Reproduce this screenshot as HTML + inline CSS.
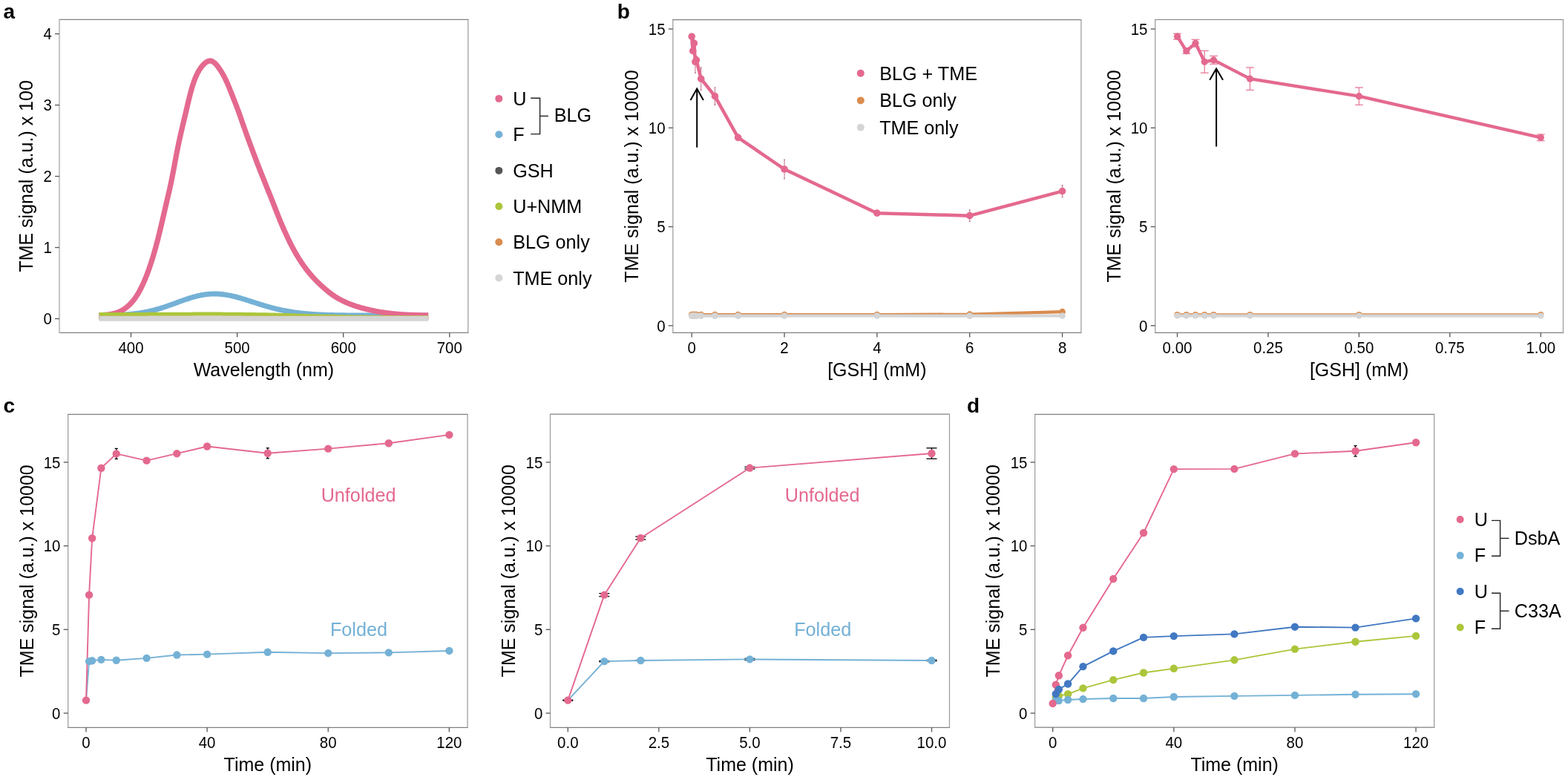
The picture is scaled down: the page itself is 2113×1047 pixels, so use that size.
<!DOCTYPE html>
<html><head><meta charset="utf-8"><title>Figure</title>
<style>html,body{margin:0;padding:0;background:#fff;}svg{display:block;}</style>
</head><body>
<svg width="2113" height="1047" viewBox="0 0 2113 1047" font-family="'Liberation Sans', Arial, Helvetica, sans-serif">
<rect width="100%" height="100%" fill="#fff"/>
<text x="4.6" y="25" font-size="28" text-anchor="start" fill="#000" font-weight="bold">a</text>
<text x="831.8" y="24.6" font-size="28" text-anchor="start" fill="#000" font-weight="bold">b</text>
<text x="4.6" y="555.6" font-size="28" text-anchor="start" fill="#000" font-weight="bold">c</text>
<text x="1302.9" y="556" font-size="28" text-anchor="start" fill="#000" font-weight="bold">d</text>
<line x1="79.4" y1="26.4" x2="631.4" y2="26.4" stroke="#808080" stroke-width="1.2"/>
<line x1="79.4" y1="448.4" x2="631.4" y2="448.4" stroke="#808080" stroke-width="1.2"/>
<line x1="80" y1="26.4" x2="80" y2="448.4" stroke="#c8c8c8" stroke-width="2.2"/>
<line x1="630.8" y1="26.4" x2="630.8" y2="448.4" stroke="#a0a0a0" stroke-width="1.3"/>
<line x1="176.5" y1="448.4" x2="176.5" y2="454.4" stroke="#555555" stroke-width="1.3"/>
<text transform="translate(176.5 475.8) scale(0.965 1.075)" font-size="21.2" text-anchor="middle" fill="#000">400</text>
<line x1="319.6" y1="448.4" x2="319.6" y2="454.4" stroke="#555555" stroke-width="1.3"/>
<text transform="translate(319.6 475.8) scale(0.965 1.075)" font-size="21.2" text-anchor="middle" fill="#000">500</text>
<line x1="462.7" y1="448.4" x2="462.7" y2="454.4" stroke="#555555" stroke-width="1.3"/>
<text transform="translate(462.7 475.8) scale(0.965 1.075)" font-size="21.2" text-anchor="middle" fill="#000">600</text>
<line x1="605.8" y1="448.4" x2="605.8" y2="454.4" stroke="#555555" stroke-width="1.3"/>
<text transform="translate(605.8 475.8) scale(0.965 1.075)" font-size="21.2" text-anchor="middle" fill="#000">700</text>
<line x1="74" y1="429.5" x2="80" y2="429.5" stroke="#555555" stroke-width="1.3"/>
<text transform="translate(69.8 437.2) scale(0.965 1.075)" font-size="21.2" text-anchor="end" fill="#000">0</text>
<line x1="74" y1="333.53" x2="80" y2="333.53" stroke="#555555" stroke-width="1.3"/>
<text transform="translate(69.8 341.23) scale(0.965 1.075)" font-size="21.2" text-anchor="end" fill="#000">1</text>
<line x1="74" y1="237.56" x2="80" y2="237.56" stroke="#555555" stroke-width="1.3"/>
<text transform="translate(69.8 245.26) scale(0.965 1.075)" font-size="21.2" text-anchor="end" fill="#000">2</text>
<line x1="74" y1="141.59" x2="80" y2="141.59" stroke="#555555" stroke-width="1.3"/>
<text transform="translate(69.8 149.29) scale(0.965 1.075)" font-size="21.2" text-anchor="end" fill="#000">3</text>
<line x1="74" y1="45.62" x2="80" y2="45.62" stroke="#555555" stroke-width="1.3"/>
<text transform="translate(69.8 53.32) scale(0.965 1.075)" font-size="21.2" text-anchor="end" fill="#000">4</text>
<text x="355.4" y="506.7" font-size="25" text-anchor="middle" fill="#000">Wavelength (nm)</text>
<text x="44.5" y="237.4" font-size="25" text-anchor="middle" transform="rotate(-90 44.5 237.4)">TME signal (a.u.) x 100</text>
<polyline points="133.57,425.01 135,425 136.43,424.98 137.86,424.97 139.29,424.95 140.73,424.93 142.16,424.91 143.59,424.89 145.02,424.86 146.45,424.83 147.88,424.8 149.31,424.77 150.74,424.73 152.17,424.69 153.6,424.65 155.04,424.61 156.47,424.56 157.9,424.5 159.33,424.44 160.76,424.38 162.19,424.31 163.62,424.24 165.05,424.16 166.48,424.07 167.91,423.98 169.35,423.89 170.78,423.78 172.21,423.67 173.64,423.55 175.07,423.43 176.5,423.29 177.93,423.15 179.36,423 180.79,422.84 182.22,422.67 183.66,422.49 185.09,422.3 186.52,422.1 187.95,421.89 189.38,421.67 190.81,421.44 192.24,421.2 193.67,420.95 195.1,420.68 196.53,420.41 197.97,420.12 199.4,419.82 200.83,419.51 202.26,419.19 203.69,418.85 205.12,418.51 206.55,418.15 207.98,417.78 209.41,417.39 210.84,417 212.28,416.6 213.71,416.18 215.14,415.76 216.57,415.32 218,414.87 219.43,414.42 220.86,413.95 222.29,413.48 223.72,413 225.15,412.51 226.59,412.01 228.02,411.51 229.45,411 230.88,410.49 232.31,409.98 233.74,409.46 235.17,408.94 236.6,408.41 238.03,407.89 239.46,407.37 240.9,406.84 242.33,406.32 243.76,405.81 245.19,405.29 246.62,404.78 248.05,404.28 249.48,403.78 250.91,403.3 252.34,402.82 253.77,402.35 255.21,401.89 256.64,401.44 258.07,401 259.5,400.58 260.93,400.17 262.36,399.78 263.79,399.4 265.22,399.04 266.65,398.7 268.08,398.37 269.52,398.07 270.95,397.78 272.38,397.51 273.81,397.26 275.24,397.04 276.67,396.83 278.1,396.65 279.53,396.49 280.96,396.35 282.39,396.23 283.83,396.13 285.26,396.06 286.69,396.01 288.12,395.98 289.55,395.98 290.98,396 292.41,396.04 293.84,396.1 295.27,396.18 296.7,396.29 298.13,396.42 299.57,396.56 301,396.73 302.43,396.92 303.86,397.13 305.29,397.36 306.72,397.6 308.15,397.86 309.58,398.14 311.01,398.44 312.45,398.75 313.88,399.08 315.31,399.42 316.74,399.77 318.17,400.14 319.6,400.51 321.03,400.9 322.46,401.3 323.89,401.71 325.32,402.13 326.75,402.56 328.19,402.99 329.62,403.43 331.05,403.87 332.48,404.32 333.91,404.77 335.34,405.23 336.77,405.69 338.2,406.15 339.63,406.61 341.07,407.07 342.5,407.54 343.93,408 345.36,408.46 346.79,408.91 348.22,409.37 349.65,409.82 351.08,410.27 352.51,410.71 353.94,411.15 355.38,411.59 356.81,412.01 358.24,412.44 359.67,412.85 361.1,413.26 362.53,413.67 363.96,414.06 365.39,414.45 366.82,414.83 368.25,415.21 369.69,415.57 371.12,415.93 372.55,416.28 373.98,416.62 375.41,416.95 376.84,417.27 378.27,417.59 379.7,417.89 381.13,418.19 382.56,418.48 384,418.76 385.43,419.03 386.86,419.3 388.29,419.55 389.72,419.8 391.15,420.04 392.58,420.27 394.01,420.49 395.44,420.71 396.87,420.92 398.31,421.11 399.74,421.31 401.17,421.49 402.6,421.67 404.03,421.84 405.46,422 406.89,422.16 408.32,422.31 409.75,422.46 411.18,422.59 412.62,422.73 414.05,422.85 415.48,422.97 416.91,423.09 418.34,423.2 419.77,423.3 421.2,423.4 422.63,423.5 424.06,423.59 425.49,423.68 426.93,423.76 428.36,423.84 429.79,423.91 431.22,423.98 432.65,424.05 434.08,424.11 435.51,424.17 436.94,424.23 438.37,424.28 439.8,424.33 441.24,424.38 442.67,424.43 444.1,424.47 445.53,424.51 446.96,424.55 448.39,424.58 449.82,424.62 451.25,424.65 452.68,424.68 454.11,424.71 455.55,424.73 456.98,424.76 458.41,424.78 459.84,424.81 461.27,424.83 462.7,424.85 464.13,424.86 465.56,424.88 466.99,424.9 468.42,424.91 469.86,424.93 471.29,424.94 472.72,424.95 474.15,424.96 475.58,424.97 477.01,424.98 478.44,424.99 479.87,425 481.3,425.01 482.73,425.02 484.17,425.02 485.6,425.03 487.03,425.04 488.46,425.04 489.89,425.05 491.32,425.05 492.75,425.06 494.18,425.06 495.61,425.07 497.04,425.07 498.48,425.07 499.91,425.08 501.34,425.08 502.77,425.08 504.2,425.08 505.63,425.09 507.06,425.09 508.49,425.09 509.92,425.09 511.35,425.09 512.79,425.1 514.22,425.1 515.65,425.1 517.08,425.1 518.51,425.1 519.94,425.1 521.37,425.1 522.8,425.1 524.23,425.11 525.66,425.11 527.1,425.11 528.53,425.11 529.96,425.11 531.39,425.11 532.82,425.11 534.25,425.11 535.68,425.11 537.11,425.11 538.54,425.11 539.97,425.11 541.41,425.11 542.84,425.11 544.27,425.11 545.7,425.11 547.13,425.11 548.56,425.11 549.99,425.11 551.42,425.11 552.85,425.11 554.28,425.11 555.72,425.11 557.15,425.11 558.58,425.11 560.01,425.11 561.44,425.11 562.87,425.11 564.3,425.11 565.73,425.11 567.16,425.11 568.59,425.11 570.03,425.11 571.46,425.11 572.89,425.11 574.32,425.11 575.75,425.11 577.18,425.11" fill="none" stroke="#74b1d6" stroke-width="7" stroke-linejoin="round" stroke-linecap="butt"/>
<polyline points="133.57,424.67 135,424.64 136.43,424.6 137.86,424.55 139.29,424.48 140.73,424.4 142.16,424.3 143.59,424.18 145.02,424.04 146.45,423.86 147.88,423.66 149.31,423.42 150.74,423.14 152.17,422.82 153.6,422.46 155.04,422.07 156.47,421.63 157.9,421.15 159.33,420.63 160.76,420.04 162.19,419.38 163.62,418.64 165.05,417.83 166.48,416.95 167.91,415.99 169.35,414.96 170.78,413.86 172.21,412.68 173.64,411.41 175.07,410.04 176.5,408.57 177.93,406.99 179.36,405.29 180.79,403.47 182.22,401.51 183.66,399.42 185.09,397.18 186.52,394.79 187.95,392.24 189.38,389.55 190.81,386.7 192.24,383.7 193.67,380.55 195.1,377.23 196.53,373.74 197.97,370.09 199.4,366.29 200.83,362.32 202.26,358.19 203.69,353.88 205.12,349.38 206.55,344.68 207.98,339.77 209.41,334.68 210.84,329.41 212.28,323.97 213.71,318.37 215.14,312.61 216.57,306.69 218,300.61 219.43,294.43 220.86,288.2 222.29,281.98 223.72,275.82 225.15,269.7 226.59,263.58 228.02,257.39 229.45,251 230.88,244.3 232.31,237.24 233.74,229.83 235.17,222.18 236.6,214.46 238.03,206.88 239.46,199.57 240.9,192.6 242.33,185.96 243.76,179.6 245.19,173.44 246.62,167.4 248.05,161.41 249.48,155.39 250.91,149.31 252.34,143.18 253.77,137.09 255.21,131.17 256.64,125.54 258.07,120.31 259.5,115.5 260.93,111.14 262.36,107.2 263.79,103.67 265.22,100.5 266.65,97.66 268.08,95.12 269.52,92.85 270.95,90.82 272.38,89.02 273.81,87.4 275.24,85.98 276.67,84.73 278.1,83.68 279.53,82.84 280.96,82.24 282.39,81.94 283.83,81.94 285.26,82.28 286.69,82.93 288.12,83.88 289.55,85.1 290.98,86.55 292.41,88.21 293.84,90.04 295.27,92.02 296.7,94.14 298.13,96.38 299.57,98.76 301,101.28 302.43,103.96 303.86,106.81 305.29,109.84 306.72,113.06 308.15,116.44 309.58,119.94 311.01,123.52 312.45,127.13 313.88,130.76 315.31,134.39 316.74,138.04 318.17,141.74 319.6,145.51 321.03,149.35 322.46,153.28 323.89,157.29 325.32,161.35 326.75,165.45 328.19,169.57 329.62,173.68 331.05,177.75 332.48,181.78 333.91,185.73 335.34,189.63 336.77,193.47 338.2,197.28 339.63,201.08 341.07,204.9 342.5,208.73 343.93,212.56 345.36,216.38 346.79,220.16 348.22,223.88 349.65,227.55 351.08,231.17 352.51,234.75 353.94,238.31 355.38,241.86 356.81,245.42 358.24,248.99 359.67,252.54 361.1,256.1 362.53,259.64 363.96,263.19 365.39,266.76 366.82,270.36 368.25,273.99 369.69,277.66 371.12,281.34 372.55,285.01 373.98,288.65 375.41,292.25 376.84,295.79 378.27,299.27 379.7,302.68 381.13,306.01 382.56,309.28 384,312.48 385.43,315.61 386.86,318.68 388.29,321.7 389.72,324.65 391.15,327.54 392.58,330.36 394.01,333.1 395.44,335.78 396.87,338.37 398.31,340.9 399.74,343.35 401.17,345.74 402.6,348.05 404.03,350.31 405.46,352.5 406.89,354.64 408.32,356.72 409.75,358.74 411.18,360.72 412.62,362.64 414.05,364.51 415.48,366.32 416.91,368.08 418.34,369.79 419.77,371.45 421.2,373.05 422.63,374.62 424.06,376.14 425.49,377.63 426.93,379.08 428.36,380.5 429.79,381.88 431.22,383.24 432.65,384.57 434.08,385.87 435.51,387.15 436.94,388.41 438.37,389.65 439.8,390.86 441.24,392.06 442.67,393.22 444.1,394.35 445.53,395.45 446.96,396.51 448.39,397.52 449.82,398.5 451.25,399.44 452.68,400.33 454.11,401.2 455.55,402.03 456.98,402.84 458.41,403.62 459.84,404.37 461.27,405.11 462.7,405.82 464.13,406.51 465.56,407.18 466.99,407.82 468.42,408.45 469.86,409.05 471.29,409.63 472.72,410.18 474.15,410.72 475.58,411.23 477.01,411.73 478.44,412.2 479.87,412.66 481.3,413.1 482.73,413.53 484.17,413.95 485.6,414.36 487.03,414.77 488.46,415.16 489.89,415.55 491.32,415.92 492.75,416.29 494.18,416.65 495.61,417 497.04,417.34 498.48,417.67 499.91,417.99 501.34,418.3 502.77,418.6 504.2,418.89 505.63,419.17 507.06,419.44 508.49,419.7 509.92,419.96 511.35,420.21 512.79,420.45 514.22,420.69 515.65,420.91 517.08,421.13 518.51,421.34 519.94,421.54 521.37,421.73 522.8,421.91 524.23,422.09 525.66,422.26 527.1,422.43 528.53,422.59 529.96,422.75 531.39,422.9 532.82,423.04 534.25,423.18 535.68,423.31 537.11,423.43 538.54,423.54 539.97,423.64 541.41,423.74 542.84,423.82 544.27,423.91 545.7,423.98 547.13,424.05 548.56,424.12 549.99,424.18 551.42,424.24 552.85,424.3 554.28,424.35 555.72,424.41 557.15,424.46 558.58,424.51 560.01,424.55 561.44,424.6 562.87,424.64 564.3,424.68 565.73,424.72 567.16,424.76 568.59,424.8 570.03,424.84 571.46,424.87 572.89,424.9 574.32,424.92 575.75,424.95 577.18,424.96" fill="none" stroke="#e4698f" stroke-width="7.2" stroke-linejoin="round" stroke-linecap="butt"/>
<polyline points="133.57,428.54 577.18,428.54" fill="none" stroke="#555555" stroke-width="5" stroke-linejoin="round" stroke-linecap="butt"/>
<polyline points="133.57,423.45 139.19,423.45 144.8,423.45 150.42,423.44 156.03,423.44 161.65,423.43 167.26,423.42 172.88,423.42 178.49,423.41 184.11,423.4 189.72,423.39 195.34,423.38 200.95,423.37 206.57,423.35 212.18,423.34 217.8,423.32 223.42,423.3 229.03,423.27 234.65,423.24 240.26,423.22 245.88,423.19 251.49,423.16 257.11,423.14 262.72,423.11 268.34,423.09 273.95,423.08 279.57,423.07 285.18,423.07 290.8,423.08 296.41,423.1 302.03,423.13 307.64,423.18 313.26,423.23 318.88,423.29 324.49,423.36 330.11,423.43 335.72,423.51 341.34,423.59 346.95,423.68 352.57,423.77 358.18,423.86 363.8,423.96 369.41,424.07 375.03,424.22 380.64,424.39 386.26,424.57 391.87,424.77 397.49,424.97 403.11,425.16 408.72,425.35 414.34,425.52 419.95,425.67 425.57,425.8 431.18,425.94 436.8,426.08 442.41,426.22 448.03,426.35 453.64,426.48 459.26,426.6 464.87,426.71 470.49,426.82 476.1,426.91 481.72,426.99 487.33,427.06 492.95,427.12 498.57,427.16 504.18,427.21 509.8,427.26 515.41,427.3 521.03,427.35 526.64,427.39 532.26,427.42 537.87,427.46 543.49,427.49 549.1,427.52 554.72,427.54 560.33,427.56 565.95,427.57 571.56,427.58 577.18,427.58" fill="none" stroke="#abc63a" stroke-width="5" stroke-linejoin="round" stroke-linecap="butt"/>
<polyline points="133.57,428.16 577.18,428.16" fill="none" stroke="#d98c4f" stroke-width="5" stroke-linejoin="round" stroke-linecap="butt"/>
<polyline points="133.57,429.21 577.18,429.21" fill="none" stroke="#d5d5d5" stroke-width="7" stroke-linejoin="round" stroke-linecap="butt"/>
<circle cx="672.3" cy="132.9" r="5" fill="#e4698f"/>
<text x="691.2" y="141.7" font-size="25.2" text-anchor="start" fill="#000">U</text>
<circle cx="672.3" cy="181.2" r="5" fill="#74b1d6"/>
<text x="691.2" y="190" font-size="25.2" text-anchor="start" fill="#000">F</text>
<circle cx="672.3" cy="229.9" r="5" fill="#555555"/>
<text x="691.2" y="238.5" font-size="25.2" text-anchor="start" fill="#000">GSH</text>
<circle cx="672.3" cy="278.1" r="5" fill="#abc63a"/>
<text x="691.2" y="287" font-size="25.2" text-anchor="start" fill="#000">U+NMM</text>
<circle cx="672.3" cy="326.3" r="5" fill="#d98c4f"/>
<text x="691.2" y="335.4" font-size="25.2" text-anchor="start" fill="#000">BLG only</text>
<circle cx="672.3" cy="374.5" r="5" fill="#d5d5d5"/>
<text x="691.2" y="383.8" font-size="25.2" text-anchor="start" fill="#000">TME only</text>
<polyline points="715.2,132.3 727.6,132.3 727.6,180.6 715.2,180.6" fill="none" stroke="#222" stroke-width="1.4"/>
<line x1="727.6" y1="156.4" x2="738.9" y2="156.4" stroke="#222" stroke-width="1.4"/>
<text x="746.8" y="163.6" font-size="25.2" text-anchor="start" fill="#000">BLG</text>
<line x1="906.2" y1="26.6" x2="1457.5" y2="26.6" stroke="#808080" stroke-width="1.2"/>
<line x1="906.2" y1="448.4" x2="1457.5" y2="448.4" stroke="#808080" stroke-width="1.2"/>
<line x1="906.8" y1="26.6" x2="906.8" y2="448.4" stroke="#a0a0a0" stroke-width="1.3"/>
<line x1="1456.9" y1="26.6" x2="1456.9" y2="448.4" stroke="#a0a0a0" stroke-width="1.3"/>
<line x1="932.2" y1="448.4" x2="932.2" y2="454.4" stroke="#555555" stroke-width="1.3"/>
<text transform="translate(932.2 475.8) scale(0.965 1.075)" font-size="21.2" text-anchor="middle" fill="#000">0</text>
<line x1="1057.04" y1="448.4" x2="1057.04" y2="454.4" stroke="#555555" stroke-width="1.3"/>
<text transform="translate(1057.04 475.8) scale(0.965 1.075)" font-size="21.2" text-anchor="middle" fill="#000">2</text>
<line x1="1181.88" y1="448.4" x2="1181.88" y2="454.4" stroke="#555555" stroke-width="1.3"/>
<text transform="translate(1181.88 475.8) scale(0.965 1.075)" font-size="21.2" text-anchor="middle" fill="#000">4</text>
<line x1="1306.72" y1="448.4" x2="1306.72" y2="454.4" stroke="#555555" stroke-width="1.3"/>
<text transform="translate(1306.72 475.8) scale(0.965 1.075)" font-size="21.2" text-anchor="middle" fill="#000">6</text>
<line x1="1431.56" y1="448.4" x2="1431.56" y2="454.4" stroke="#555555" stroke-width="1.3"/>
<text transform="translate(1431.56 475.8) scale(0.965 1.075)" font-size="21.2" text-anchor="middle" fill="#000">8</text>
<line x1="900.8" y1="438.8" x2="906.8" y2="438.8" stroke="#555555" stroke-width="1.3"/>
<text transform="translate(896.6 446.5) scale(0.965 1.075)" font-size="21.2" text-anchor="end" fill="#000">0</text>
<line x1="900.8" y1="305.55" x2="906.8" y2="305.55" stroke="#555555" stroke-width="1.3"/>
<text transform="translate(896.6 313.25) scale(0.965 1.075)" font-size="21.2" text-anchor="end" fill="#000">5</text>
<line x1="900.8" y1="172.3" x2="906.8" y2="172.3" stroke="#555555" stroke-width="1.3"/>
<text transform="translate(896.6 180) scale(0.965 1.075)" font-size="21.2" text-anchor="end" fill="#000">10</text>
<line x1="900.8" y1="39.05" x2="906.8" y2="39.05" stroke="#555555" stroke-width="1.3"/>
<text transform="translate(896.6 46.75) scale(0.965 1.075)" font-size="21.2" text-anchor="end" fill="#000">15</text>
<text x="1181.85" y="506.7" font-size="25" text-anchor="middle" fill="#000">[GSH] (mM)</text>
<text x="859.7" y="237.5" font-size="25" text-anchor="middle" transform="rotate(-90 859.7 237.5)">TME signal (a.u.) x 10000</text>
<polyline points="932.2,424.14 933.76,424.14 935.32,424.14 936.88,424.14 938.44,424.14 944.68,424.14 963.41,424.14 994.62,424.14 1057.04,424.01 1181.88,424.01 1306.72,423.61 1431.56,420.15" fill="none" stroke="#d98c4f" stroke-width="4.2" stroke-linejoin="round" stroke-linecap="round"/>
<circle cx="932.2" cy="424.14" r="4.3" fill="#d98c4f"/>
<circle cx="933.76" cy="424.14" r="4.3" fill="#d98c4f"/>
<circle cx="935.32" cy="424.14" r="4.3" fill="#d98c4f"/>
<circle cx="936.88" cy="424.14" r="4.3" fill="#d98c4f"/>
<circle cx="938.44" cy="424.14" r="4.3" fill="#d98c4f"/>
<circle cx="944.68" cy="424.14" r="4.3" fill="#d98c4f"/>
<circle cx="963.41" cy="424.14" r="4.3" fill="#d98c4f"/>
<circle cx="994.62" cy="424.14" r="4.3" fill="#d98c4f"/>
<circle cx="1057.04" cy="424.01" r="4.3" fill="#d98c4f"/>
<circle cx="1181.88" cy="424.01" r="4.3" fill="#d98c4f"/>
<circle cx="1306.72" cy="423.61" r="4.3" fill="#d98c4f"/>
<circle cx="1431.56" cy="420.15" r="4.3" fill="#d98c4f"/>
<polyline points="932.2,425.61 933.76,425.61 935.32,425.61 936.88,425.61 938.44,425.61 944.68,425.61 963.41,425.61 994.62,425.61 1057.04,425.48 1181.88,425.48 1306.72,425.61 1431.56,425.48" fill="none" stroke="#d5d5d5" stroke-width="4.2" stroke-linejoin="round" stroke-linecap="round"/>
<circle cx="932.2" cy="425.61" r="4.3" fill="#d5d5d5"/>
<circle cx="933.76" cy="425.61" r="4.3" fill="#d5d5d5"/>
<circle cx="935.32" cy="425.61" r="4.3" fill="#d5d5d5"/>
<circle cx="936.88" cy="425.61" r="4.3" fill="#d5d5d5"/>
<circle cx="938.44" cy="425.61" r="4.3" fill="#d5d5d5"/>
<circle cx="944.68" cy="425.61" r="4.3" fill="#d5d5d5"/>
<circle cx="963.41" cy="425.61" r="4.3" fill="#d5d5d5"/>
<circle cx="994.62" cy="425.61" r="4.3" fill="#d5d5d5"/>
<circle cx="1057.04" cy="425.48" r="4.3" fill="#d5d5d5"/>
<circle cx="1181.88" cy="425.48" r="4.3" fill="#d5d5d5"/>
<circle cx="1306.72" cy="425.61" r="4.3" fill="#d5d5d5"/>
<circle cx="1431.56" cy="425.48" r="4.3" fill="#d5d5d5"/>
<line x1="932.2" y1="53.07" x2="932.2" y2="45.29" stroke="#c87a98" stroke-width="1.1"/>
<line x1="931.2" y1="53.07" x2="933.2" y2="53.07" stroke="#a86a80" stroke-width="1.1"/>
<line x1="931.2" y1="45.29" x2="933.2" y2="45.29" stroke="#a86a80" stroke-width="1.1"/>
<line x1="933.76" y1="72.34" x2="933.76" y2="64.93" stroke="#c87a98" stroke-width="1.1"/>
<line x1="932.76" y1="72.34" x2="934.76" y2="72.34" stroke="#a86a80" stroke-width="1.1"/>
<line x1="932.76" y1="64.93" x2="934.76" y2="64.93" stroke="#a86a80" stroke-width="1.1"/>
<line x1="935.32" y1="63.14" x2="935.32" y2="53.33" stroke="#c87a98" stroke-width="1.1"/>
<line x1="934.32" y1="63.14" x2="936.32" y2="63.14" stroke="#a86a80" stroke-width="1.1"/>
<line x1="934.32" y1="53.33" x2="936.32" y2="53.33" stroke="#a86a80" stroke-width="1.1"/>
<line x1="936.88" y1="98.21" x2="936.88" y2="68.37" stroke="#c87a98" stroke-width="1.1"/>
<line x1="935.88" y1="98.21" x2="937.88" y2="98.21" stroke="#a86a80" stroke-width="1.1"/>
<line x1="935.88" y1="68.37" x2="937.88" y2="68.37" stroke="#a86a80" stroke-width="1.1"/>
<line x1="938.44" y1="86.38" x2="938.44" y2="75.4" stroke="#c87a98" stroke-width="1.1"/>
<line x1="937.44" y1="86.38" x2="939.44" y2="86.38" stroke="#a86a80" stroke-width="1.1"/>
<line x1="937.44" y1="75.4" x2="939.44" y2="75.4" stroke="#a86a80" stroke-width="1.1"/>
<line x1="944.68" y1="121.4" x2="944.68" y2="91.02" stroke="#c87a98" stroke-width="1.1"/>
<line x1="943.68" y1="121.4" x2="945.68" y2="121.4" stroke="#a86a80" stroke-width="1.1"/>
<line x1="943.68" y1="91.02" x2="945.68" y2="91.02" stroke="#a86a80" stroke-width="1.1"/>
<line x1="963.41" y1="141.39" x2="963.41" y2="117.93" stroke="#c87a98" stroke-width="1.1"/>
<line x1="962.41" y1="141.39" x2="964.41" y2="141.39" stroke="#a86a80" stroke-width="1.1"/>
<line x1="962.41" y1="117.93" x2="964.41" y2="117.93" stroke="#a86a80" stroke-width="1.1"/>
<line x1="994.62" y1="189.62" x2="994.62" y2="181.09" stroke="#c87a98" stroke-width="1.1"/>
<line x1="993.62" y1="189.62" x2="995.62" y2="189.62" stroke="#a86a80" stroke-width="1.1"/>
<line x1="993.62" y1="181.09" x2="995.62" y2="181.09" stroke="#a86a80" stroke-width="1.1"/>
<line x1="1057.04" y1="240.79" x2="1057.04" y2="215.21" stroke="#c87a98" stroke-width="1.1"/>
<line x1="1056.04" y1="240.79" x2="1058.04" y2="240.79" stroke="#a86a80" stroke-width="1.1"/>
<line x1="1056.04" y1="215.21" x2="1058.04" y2="215.21" stroke="#a86a80" stroke-width="1.1"/>
<line x1="1181.88" y1="289.29" x2="1181.88" y2="285.03" stroke="#c87a98" stroke-width="1.1"/>
<line x1="1180.88" y1="289.29" x2="1182.88" y2="289.29" stroke="#a86a80" stroke-width="1.1"/>
<line x1="1180.88" y1="285.03" x2="1182.88" y2="285.03" stroke="#a86a80" stroke-width="1.1"/>
<line x1="1306.72" y1="298.35" x2="1306.72" y2="282.9" stroke="#c87a98" stroke-width="1.1"/>
<line x1="1305.72" y1="298.35" x2="1307.72" y2="298.35" stroke="#a86a80" stroke-width="1.1"/>
<line x1="1305.72" y1="282.9" x2="1307.72" y2="282.9" stroke="#a86a80" stroke-width="1.1"/>
<line x1="1431.56" y1="265.58" x2="1431.56" y2="249.59" stroke="#c87a98" stroke-width="1.1"/>
<line x1="1430.56" y1="265.58" x2="1432.56" y2="265.58" stroke="#a86a80" stroke-width="1.1"/>
<line x1="1430.56" y1="249.59" x2="1432.56" y2="249.59" stroke="#a86a80" stroke-width="1.1"/>
<polyline points="932.2,49.18 933.76,68.63 935.32,58.24 936.88,83.29 938.44,80.89 944.68,106.21 963.41,129.66 994.62,185.36 1057.04,228 1181.88,287.16 1306.72,290.63 1431.56,257.58" fill="none" stroke="#e4698f" stroke-width="4.5" stroke-linejoin="round" stroke-linecap="round"/>
<circle cx="932.2" cy="49.18" r="4.8" fill="#e4698f"/>
<circle cx="933.76" cy="68.63" r="4.8" fill="#e4698f"/>
<circle cx="935.32" cy="58.24" r="4.8" fill="#e4698f"/>
<circle cx="936.88" cy="83.29" r="4.8" fill="#e4698f"/>
<circle cx="938.44" cy="80.89" r="4.8" fill="#e4698f"/>
<circle cx="944.68" cy="106.21" r="4.8" fill="#e4698f"/>
<circle cx="963.41" cy="129.66" r="4.8" fill="#e4698f"/>
<circle cx="994.62" cy="185.36" r="4.8" fill="#e4698f"/>
<circle cx="1057.04" cy="228" r="4.8" fill="#e4698f"/>
<circle cx="1181.88" cy="287.16" r="4.8" fill="#e4698f"/>
<circle cx="1306.72" cy="290.63" r="4.8" fill="#e4698f"/>
<circle cx="1431.56" cy="257.58" r="4.8" fill="#e4698f"/>
<line x1="939.2" y1="198.7" x2="939.2" y2="120.6" stroke="#000" stroke-width="2"/>
<polyline points="930.5,134.9 939.2,119.6 947.9,134.9" fill="none" stroke="#000" stroke-width="2"/>
<circle cx="1159.8" cy="98.8" r="5" fill="#e4698f"/>
<text x="1185.2" y="107.6" font-size="25.2" text-anchor="start" fill="#000">BLG + TME</text>
<circle cx="1159.8" cy="135.4" r="5" fill="#d98c4f"/>
<text x="1185.2" y="144.2" font-size="25.2" text-anchor="start" fill="#000">BLG only</text>
<circle cx="1159.8" cy="171.8" r="5" fill="#d5d5d5"/>
<text x="1185.2" y="180.6" font-size="25.2" text-anchor="start" fill="#000">TME only</text>
<line x1="1556.1" y1="26.5" x2="2107.1" y2="26.5" stroke="#808080" stroke-width="1.2"/>
<line x1="1556.1" y1="448.3" x2="2107.1" y2="448.3" stroke="#808080" stroke-width="1.2"/>
<line x1="1556.7" y1="26.5" x2="1556.7" y2="448.3" stroke="#a0a0a0" stroke-width="1.3"/>
<line x1="2106.5" y1="26.5" x2="2106.5" y2="448.3" stroke="#a0a0a0" stroke-width="1.3"/>
<line x1="1586.5" y1="448.3" x2="1586.5" y2="454.3" stroke="#555555" stroke-width="1.3"/>
<text transform="translate(1586.5 475.7) scale(0.965 1.075)" font-size="21.2" text-anchor="middle" fill="#000">0.00</text>
<line x1="1708.95" y1="448.3" x2="1708.95" y2="454.3" stroke="#555555" stroke-width="1.3"/>
<text transform="translate(1708.95 475.7) scale(0.965 1.075)" font-size="21.2" text-anchor="middle" fill="#000">0.25</text>
<line x1="1831.4" y1="448.3" x2="1831.4" y2="454.3" stroke="#555555" stroke-width="1.3"/>
<text transform="translate(1831.4 475.7) scale(0.965 1.075)" font-size="21.2" text-anchor="middle" fill="#000">0.50</text>
<line x1="1953.85" y1="448.3" x2="1953.85" y2="454.3" stroke="#555555" stroke-width="1.3"/>
<text transform="translate(1953.85 475.7) scale(0.965 1.075)" font-size="21.2" text-anchor="middle" fill="#000">0.75</text>
<line x1="2076.3" y1="448.3" x2="2076.3" y2="454.3" stroke="#555555" stroke-width="1.3"/>
<text transform="translate(2076.3 475.7) scale(0.965 1.075)" font-size="21.2" text-anchor="middle" fill="#000">1.00</text>
<line x1="1550.7" y1="438.8" x2="1556.7" y2="438.8" stroke="#555555" stroke-width="1.3"/>
<text transform="translate(1546.5 446.5) scale(0.965 1.075)" font-size="21.2" text-anchor="end" fill="#000">0</text>
<line x1="1550.7" y1="305.55" x2="1556.7" y2="305.55" stroke="#555555" stroke-width="1.3"/>
<text transform="translate(1546.5 313.25) scale(0.965 1.075)" font-size="21.2" text-anchor="end" fill="#000">5</text>
<line x1="1550.7" y1="172.3" x2="1556.7" y2="172.3" stroke="#555555" stroke-width="1.3"/>
<text transform="translate(1546.5 180) scale(0.965 1.075)" font-size="21.2" text-anchor="end" fill="#000">10</text>
<line x1="1550.7" y1="39.05" x2="1556.7" y2="39.05" stroke="#555555" stroke-width="1.3"/>
<text transform="translate(1546.5 46.75) scale(0.965 1.075)" font-size="21.2" text-anchor="end" fill="#000">15</text>
<text x="1831.6" y="506.6" font-size="25" text-anchor="middle" fill="#000">[GSH] (mM)</text>
<text x="1509.6" y="237.4" font-size="25" text-anchor="middle" transform="rotate(-90 1509.6 237.4)">TME signal (a.u.) x 10000</text>
<polyline points="1586.5,424.14 1598.74,424.14 1610.99,424.14 1623.23,424.14 1635.48,424.14 1684.46,424.14 1831.4,424.14 2076.3,424.14" fill="none" stroke="#d98c4f" stroke-width="4.0" stroke-linejoin="round" stroke-linecap="round"/>
<circle cx="1586.5" cy="424.14" r="4.1" fill="#d98c4f"/>
<circle cx="1598.74" cy="424.14" r="4.1" fill="#d98c4f"/>
<circle cx="1610.99" cy="424.14" r="4.1" fill="#d98c4f"/>
<circle cx="1623.23" cy="424.14" r="4.1" fill="#d98c4f"/>
<circle cx="1635.48" cy="424.14" r="4.1" fill="#d98c4f"/>
<circle cx="1684.46" cy="424.14" r="4.1" fill="#d98c4f"/>
<circle cx="1831.4" cy="424.14" r="4.1" fill="#d98c4f"/>
<circle cx="2076.3" cy="424.14" r="4.1" fill="#d98c4f"/>
<polyline points="1586.5,425.61 1598.74,425.61 1610.99,425.61 1623.23,425.61 1635.48,425.61 1684.46,425.61 1831.4,425.61 2076.3,425.61" fill="none" stroke="#d5d5d5" stroke-width="4.0" stroke-linejoin="round" stroke-linecap="round"/>
<circle cx="1586.5" cy="425.61" r="4.1" fill="#d5d5d5"/>
<circle cx="1598.74" cy="425.61" r="4.1" fill="#d5d5d5"/>
<circle cx="1610.99" cy="425.61" r="4.1" fill="#d5d5d5"/>
<circle cx="1623.23" cy="425.61" r="4.1" fill="#d5d5d5"/>
<circle cx="1635.48" cy="425.61" r="4.1" fill="#d5d5d5"/>
<circle cx="1684.46" cy="425.61" r="4.1" fill="#d5d5d5"/>
<circle cx="1831.4" cy="425.61" r="4.1" fill="#d5d5d5"/>
<circle cx="2076.3" cy="425.61" r="4.1" fill="#d5d5d5"/>
<line x1="1586.5" y1="53.07" x2="1586.5" y2="45.29" stroke="#e8849e" stroke-width="1.4"/>
<line x1="1581.1" y1="53.07" x2="1591.9" y2="53.07" stroke="#e8849e" stroke-width="1.4"/>
<line x1="1581.1" y1="45.29" x2="1591.9" y2="45.29" stroke="#e8849e" stroke-width="1.4"/>
<line x1="1598.74" y1="72.34" x2="1598.74" y2="64.93" stroke="#e8849e" stroke-width="1.4"/>
<line x1="1593.34" y1="72.34" x2="1604.14" y2="72.34" stroke="#e8849e" stroke-width="1.4"/>
<line x1="1593.34" y1="64.93" x2="1604.14" y2="64.93" stroke="#e8849e" stroke-width="1.4"/>
<line x1="1610.99" y1="63.14" x2="1610.99" y2="53.33" stroke="#e8849e" stroke-width="1.4"/>
<line x1="1605.59" y1="63.14" x2="1616.39" y2="63.14" stroke="#e8849e" stroke-width="1.4"/>
<line x1="1605.59" y1="53.33" x2="1616.39" y2="53.33" stroke="#e8849e" stroke-width="1.4"/>
<line x1="1623.23" y1="98.21" x2="1623.23" y2="68.37" stroke="#e8849e" stroke-width="1.4"/>
<line x1="1617.83" y1="98.21" x2="1628.63" y2="98.21" stroke="#e8849e" stroke-width="1.4"/>
<line x1="1617.83" y1="68.37" x2="1628.63" y2="68.37" stroke="#e8849e" stroke-width="1.4"/>
<line x1="1635.48" y1="86.38" x2="1635.48" y2="75.4" stroke="#e8849e" stroke-width="1.4"/>
<line x1="1630.08" y1="86.38" x2="1640.88" y2="86.38" stroke="#e8849e" stroke-width="1.4"/>
<line x1="1630.08" y1="75.4" x2="1640.88" y2="75.4" stroke="#e8849e" stroke-width="1.4"/>
<line x1="1684.46" y1="121.4" x2="1684.46" y2="91.02" stroke="#e8849e" stroke-width="1.4"/>
<line x1="1679.06" y1="121.4" x2="1689.86" y2="121.4" stroke="#e8849e" stroke-width="1.4"/>
<line x1="1679.06" y1="91.02" x2="1689.86" y2="91.02" stroke="#e8849e" stroke-width="1.4"/>
<line x1="1831.4" y1="141.39" x2="1831.4" y2="117.93" stroke="#e8849e" stroke-width="1.4"/>
<line x1="1826" y1="141.39" x2="1836.8" y2="141.39" stroke="#e8849e" stroke-width="1.4"/>
<line x1="1826" y1="117.93" x2="1836.8" y2="117.93" stroke="#e8849e" stroke-width="1.4"/>
<line x1="2076.3" y1="189.62" x2="2076.3" y2="181.09" stroke="#e8849e" stroke-width="1.4"/>
<line x1="2070.9" y1="189.62" x2="2081.7" y2="189.62" stroke="#e8849e" stroke-width="1.4"/>
<line x1="2070.9" y1="181.09" x2="2081.7" y2="181.09" stroke="#e8849e" stroke-width="1.4"/>
<polyline points="1586.5,49.18 1598.74,68.63 1610.99,58.24 1623.23,83.29 1635.48,80.89 1684.46,106.21 1831.4,129.66 2076.3,185.36" fill="none" stroke="#e4698f" stroke-width="4.3" stroke-linejoin="round" stroke-linecap="round"/>
<circle cx="1586.5" cy="49.18" r="4.6" fill="#e4698f"/>
<circle cx="1598.74" cy="68.63" r="4.6" fill="#e4698f"/>
<circle cx="1610.99" cy="58.24" r="4.6" fill="#e4698f"/>
<circle cx="1623.23" cy="83.29" r="4.6" fill="#e4698f"/>
<circle cx="1635.48" cy="80.89" r="4.6" fill="#e4698f"/>
<circle cx="1684.46" cy="106.21" r="4.6" fill="#e4698f"/>
<circle cx="1831.4" cy="129.66" r="4.6" fill="#e4698f"/>
<circle cx="2076.3" cy="185.36" r="4.6" fill="#e4698f"/>
<line x1="1639.1" y1="197.5" x2="1639.1" y2="93.5" stroke="#000" stroke-width="2"/>
<polyline points="1630.2,107.8 1639.1,92.4 1648,107.8" fill="none" stroke="#000" stroke-width="2"/>
<line x1="91.1" y1="558.4" x2="630.6" y2="558.4" stroke="#808080" stroke-width="1.2"/>
<line x1="91.1" y1="980.3" x2="630.6" y2="980.3" stroke="#808080" stroke-width="1.2"/>
<line x1="91.7" y1="558.4" x2="91.7" y2="980.3" stroke="#a0a0a0" stroke-width="1.3"/>
<line x1="630" y1="558.4" x2="630" y2="980.3" stroke="#a0a0a0" stroke-width="1.3"/>
<line x1="116" y1="980.3" x2="116" y2="986.3" stroke="#555555" stroke-width="1.3"/>
<text transform="translate(116 1007.7) scale(0.965 1.075)" font-size="21.2" text-anchor="middle" fill="#000">0</text>
<line x1="279.12" y1="980.3" x2="279.12" y2="986.3" stroke="#555555" stroke-width="1.3"/>
<text transform="translate(279.12 1007.7) scale(0.965 1.075)" font-size="21.2" text-anchor="middle" fill="#000">40</text>
<line x1="442.24" y1="980.3" x2="442.24" y2="986.3" stroke="#555555" stroke-width="1.3"/>
<text transform="translate(442.24 1007.7) scale(0.965 1.075)" font-size="21.2" text-anchor="middle" fill="#000">80</text>
<line x1="605.36" y1="980.3" x2="605.36" y2="986.3" stroke="#555555" stroke-width="1.3"/>
<text transform="translate(605.36 1007.7) scale(0.965 1.075)" font-size="21.2" text-anchor="middle" fill="#000">120</text>
<line x1="85.7" y1="961" x2="91.7" y2="961" stroke="#555555" stroke-width="1.3"/>
<text transform="translate(81.5 968.7) scale(0.965 1.075)" font-size="21.2" text-anchor="end" fill="#000">0</text>
<line x1="85.7" y1="848.3" x2="91.7" y2="848.3" stroke="#555555" stroke-width="1.3"/>
<text transform="translate(81.5 856) scale(0.965 1.075)" font-size="21.2" text-anchor="end" fill="#000">5</text>
<line x1="85.7" y1="735.6" x2="91.7" y2="735.6" stroke="#555555" stroke-width="1.3"/>
<text transform="translate(81.5 743.3) scale(0.965 1.075)" font-size="21.2" text-anchor="end" fill="#000">10</text>
<line x1="85.7" y1="622.9" x2="91.7" y2="622.9" stroke="#555555" stroke-width="1.3"/>
<text transform="translate(81.5 630.6) scale(0.965 1.075)" font-size="21.2" text-anchor="end" fill="#000">15</text>
<text x="360.85" y="1038.6" font-size="25" text-anchor="middle" fill="#000">Time (min)</text>
<text x="44.6" y="769.35" font-size="25" text-anchor="middle" transform="rotate(-90 44.6 769.35)">TME signal (a.u.) x 10000</text>
<line x1="156.78" y1="618.39" x2="156.78" y2="604.42" stroke="#000" stroke-width="1.3"/>
<line x1="154.68" y1="618.39" x2="158.88" y2="618.39" stroke="#000" stroke-width="1.3"/>
<line x1="154.68" y1="604.42" x2="158.88" y2="604.42" stroke="#000" stroke-width="1.3"/>
<line x1="360.68" y1="617.72" x2="360.68" y2="603.74" stroke="#000" stroke-width="1.3"/>
<line x1="358.58" y1="617.72" x2="362.78" y2="617.72" stroke="#000" stroke-width="1.3"/>
<line x1="358.58" y1="603.74" x2="362.78" y2="603.74" stroke="#000" stroke-width="1.3"/>
<polyline points="116,943.64 120.08,891.13 124.16,890.22 136.39,888.87 156.78,889.77 197.56,886.84 238.34,882.56 279.12,881.66 360.68,878.73 442.24,880.08 523.8,879.41 605.36,876.93" fill="none" stroke="#74b1d6" stroke-width="1.9" stroke-linejoin="round" stroke-linecap="round"/>
<polyline points="116,943.64 120.08,801.64 124.16,725.23 136.39,630.79 156.78,611.4 197.56,620.65 238.34,611.18 279.12,601.49 360.68,610.73 442.24,604.64 523.8,597.2 605.36,585.93" fill="none" stroke="#e4698f" stroke-width="1.9" stroke-linejoin="round" stroke-linecap="round"/>
<circle cx="120.08" cy="891.13" r="5.2" fill="#74b1d6"/>
<circle cx="124.16" cy="890.22" r="5.2" fill="#74b1d6"/>
<circle cx="136.39" cy="888.87" r="5.2" fill="#74b1d6"/>
<circle cx="156.78" cy="889.77" r="5.2" fill="#74b1d6"/>
<circle cx="197.56" cy="886.84" r="5.2" fill="#74b1d6"/>
<circle cx="238.34" cy="882.56" r="5.2" fill="#74b1d6"/>
<circle cx="279.12" cy="881.66" r="5.2" fill="#74b1d6"/>
<circle cx="360.68" cy="878.73" r="5.2" fill="#74b1d6"/>
<circle cx="442.24" cy="880.08" r="5.2" fill="#74b1d6"/>
<circle cx="523.8" cy="879.41" r="5.2" fill="#74b1d6"/>
<circle cx="605.36" cy="876.93" r="5.2" fill="#74b1d6"/>
<circle cx="116" cy="943.64" r="5.2" fill="#e4698f"/>
<circle cx="120.08" cy="801.64" r="5.2" fill="#e4698f"/>
<circle cx="124.16" cy="725.23" r="5.2" fill="#e4698f"/>
<circle cx="136.39" cy="630.79" r="5.2" fill="#e4698f"/>
<circle cx="156.78" cy="611.4" r="5.2" fill="#e4698f"/>
<circle cx="197.56" cy="620.65" r="5.2" fill="#e4698f"/>
<circle cx="238.34" cy="611.18" r="5.2" fill="#e4698f"/>
<circle cx="279.12" cy="601.49" r="5.2" fill="#e4698f"/>
<circle cx="360.68" cy="610.73" r="5.2" fill="#e4698f"/>
<circle cx="442.24" cy="604.64" r="5.2" fill="#e4698f"/>
<circle cx="523.8" cy="597.2" r="5.2" fill="#e4698f"/>
<circle cx="605.36" cy="585.93" r="5.2" fill="#e4698f"/>
<text x="483.1" y="675.8" font-size="25.2" text-anchor="middle" fill="#e4698f">Unfolded</text>
<text x="483.4" y="857.2" font-size="25.2" text-anchor="middle" fill="#74b1d6">Folded</text>
<line x1="740.9" y1="558.2" x2="1280.1" y2="558.2" stroke="#808080" stroke-width="1.2"/>
<line x1="740.9" y1="980.3" x2="1280.1" y2="980.3" stroke="#808080" stroke-width="1.2"/>
<line x1="741.5" y1="558.2" x2="741.5" y2="980.3" stroke="#a0a0a0" stroke-width="1.3"/>
<line x1="1279.5" y1="558.2" x2="1279.5" y2="980.3" stroke="#a0a0a0" stroke-width="1.3"/>
<line x1="765.3" y1="980.3" x2="765.3" y2="986.3" stroke="#555555" stroke-width="1.3"/>
<text transform="translate(765.3 1007.7) scale(0.965 1.075)" font-size="21.2" text-anchor="middle" fill="#000">0.0</text>
<line x1="887.85" y1="980.3" x2="887.85" y2="986.3" stroke="#555555" stroke-width="1.3"/>
<text transform="translate(887.85 1007.7) scale(0.965 1.075)" font-size="21.2" text-anchor="middle" fill="#000">2.5</text>
<line x1="1010.4" y1="980.3" x2="1010.4" y2="986.3" stroke="#555555" stroke-width="1.3"/>
<text transform="translate(1010.4 1007.7) scale(0.965 1.075)" font-size="21.2" text-anchor="middle" fill="#000">5.0</text>
<line x1="1132.95" y1="980.3" x2="1132.95" y2="986.3" stroke="#555555" stroke-width="1.3"/>
<text transform="translate(1132.95 1007.7) scale(0.965 1.075)" font-size="21.2" text-anchor="middle" fill="#000">7.5</text>
<line x1="1255.5" y1="980.3" x2="1255.5" y2="986.3" stroke="#555555" stroke-width="1.3"/>
<text transform="translate(1255.5 1007.7) scale(0.965 1.075)" font-size="21.2" text-anchor="middle" fill="#000">10.0</text>
<line x1="735.5" y1="961" x2="741.5" y2="961" stroke="#555555" stroke-width="1.3"/>
<text transform="translate(731.3 968.7) scale(0.965 1.075)" font-size="21.2" text-anchor="end" fill="#000">0</text>
<line x1="735.5" y1="848.3" x2="741.5" y2="848.3" stroke="#555555" stroke-width="1.3"/>
<text transform="translate(731.3 856) scale(0.965 1.075)" font-size="21.2" text-anchor="end" fill="#000">5</text>
<line x1="735.5" y1="735.6" x2="741.5" y2="735.6" stroke="#555555" stroke-width="1.3"/>
<text transform="translate(731.3 743.3) scale(0.965 1.075)" font-size="21.2" text-anchor="end" fill="#000">10</text>
<line x1="735.5" y1="622.9" x2="741.5" y2="622.9" stroke="#555555" stroke-width="1.3"/>
<text transform="translate(731.3 630.6) scale(0.965 1.075)" font-size="21.2" text-anchor="end" fill="#000">15</text>
<text x="1010.5" y="1038.6" font-size="25" text-anchor="middle" fill="#000">Time (min)</text>
<text x="694.4" y="769.25" font-size="25" text-anchor="middle" transform="rotate(-90 694.4 769.25)">TME signal (a.u.) x 10000</text>
<line x1="765.3" y1="944.1" x2="765.3" y2="943.19" stroke="#000" stroke-width="1.3"/>
<line x1="758.3" y1="944.1" x2="772.3" y2="944.1" stroke="#000" stroke-width="1.3"/>
<line x1="758.3" y1="943.19" x2="772.3" y2="943.19" stroke="#000" stroke-width="1.3"/>
<line x1="814.32" y1="803.67" x2="814.32" y2="799.61" stroke="#000" stroke-width="1.3"/>
<line x1="807.32" y1="803.67" x2="821.32" y2="803.67" stroke="#000" stroke-width="1.3"/>
<line x1="807.32" y1="799.61" x2="821.32" y2="799.61" stroke="#000" stroke-width="1.3"/>
<line x1="863.34" y1="727.03" x2="863.34" y2="722.98" stroke="#000" stroke-width="1.3"/>
<line x1="856.34" y1="727.03" x2="870.34" y2="727.03" stroke="#000" stroke-width="1.3"/>
<line x1="856.34" y1="722.98" x2="870.34" y2="722.98" stroke="#000" stroke-width="1.3"/>
<line x1="1010.4" y1="631.92" x2="1010.4" y2="629.21" stroke="#000" stroke-width="1.3"/>
<line x1="1003.4" y1="631.92" x2="1017.4" y2="631.92" stroke="#000" stroke-width="1.3"/>
<line x1="1003.4" y1="629.21" x2="1017.4" y2="629.21" stroke="#000" stroke-width="1.3"/>
<line x1="1255.5" y1="618.17" x2="1255.5" y2="603.74" stroke="#000" stroke-width="1.3"/>
<line x1="1248.5" y1="618.17" x2="1262.5" y2="618.17" stroke="#000" stroke-width="1.3"/>
<line x1="1248.5" y1="603.74" x2="1262.5" y2="603.74" stroke="#000" stroke-width="1.3"/>
<line x1="814.32" y1="891.8" x2="814.32" y2="890.45" stroke="#000" stroke-width="1.3"/>
<line x1="807.32" y1="891.8" x2="821.32" y2="891.8" stroke="#000" stroke-width="1.3"/>
<line x1="807.32" y1="890.45" x2="821.32" y2="890.45" stroke="#000" stroke-width="1.3"/>
<line x1="863.34" y1="890.45" x2="863.34" y2="889.55" stroke="#000" stroke-width="1.3"/>
<line x1="856.34" y1="890.45" x2="870.34" y2="890.45" stroke="#000" stroke-width="1.3"/>
<line x1="856.34" y1="889.55" x2="870.34" y2="889.55" stroke="#000" stroke-width="1.3"/>
<line x1="1010.4" y1="889.55" x2="1010.4" y2="887.29" stroke="#000" stroke-width="1.3"/>
<line x1="1003.4" y1="889.55" x2="1017.4" y2="889.55" stroke="#000" stroke-width="1.3"/>
<line x1="1003.4" y1="887.29" x2="1017.4" y2="887.29" stroke="#000" stroke-width="1.3"/>
<line x1="1255.5" y1="890.68" x2="1255.5" y2="889.32" stroke="#000" stroke-width="1.3"/>
<line x1="1248.5" y1="890.68" x2="1262.5" y2="890.68" stroke="#000" stroke-width="1.3"/>
<line x1="1248.5" y1="889.32" x2="1262.5" y2="889.32" stroke="#000" stroke-width="1.3"/>
<polyline points="765.3,943.64 814.32,891.13 863.34,890 1010.4,888.42 1255.5,890" fill="none" stroke="#74b1d6" stroke-width="1.9" stroke-linejoin="round" stroke-linecap="round"/>
<polyline points="765.3,943.64 814.32,801.64 863.34,725.01 1010.4,630.56 1255.5,610.95" fill="none" stroke="#e4698f" stroke-width="1.9" stroke-linejoin="round" stroke-linecap="round"/>
<circle cx="814.32" cy="891.13" r="5.2" fill="#74b1d6"/>
<circle cx="863.34" cy="890" r="5.2" fill="#74b1d6"/>
<circle cx="1010.4" cy="888.42" r="5.2" fill="#74b1d6"/>
<circle cx="1255.5" cy="890" r="5.2" fill="#74b1d6"/>
<circle cx="765.3" cy="943.64" r="5.2" fill="#e4698f"/>
<circle cx="814.32" cy="801.64" r="5.2" fill="#e4698f"/>
<circle cx="863.34" cy="725.01" r="5.2" fill="#e4698f"/>
<circle cx="1010.4" cy="630.56" r="5.2" fill="#e4698f"/>
<circle cx="1255.5" cy="610.95" r="5.2" fill="#e4698f"/>
<text x="1108.2" y="675.8" font-size="25.2" text-anchor="middle" fill="#e4698f">Unfolded</text>
<text x="1108.7" y="857.2" font-size="25.2" text-anchor="middle" fill="#74b1d6">Folded</text>
<line x1="1394" y1="558.4" x2="1933.3" y2="558.4" stroke="#808080" stroke-width="1.2"/>
<line x1="1394" y1="980.2" x2="1933.3" y2="980.2" stroke="#808080" stroke-width="1.2"/>
<line x1="1394.6" y1="558.4" x2="1394.6" y2="980.2" stroke="#a0a0a0" stroke-width="1.3"/>
<line x1="1932.7" y1="558.4" x2="1932.7" y2="980.2" stroke="#a0a0a0" stroke-width="1.3"/>
<line x1="1418.7" y1="980.2" x2="1418.7" y2="986.2" stroke="#555555" stroke-width="1.3"/>
<text transform="translate(1418.7 1007.6) scale(0.965 1.075)" font-size="21.2" text-anchor="middle" fill="#000">0</text>
<line x1="1581.82" y1="980.2" x2="1581.82" y2="986.2" stroke="#555555" stroke-width="1.3"/>
<text transform="translate(1581.82 1007.6) scale(0.965 1.075)" font-size="21.2" text-anchor="middle" fill="#000">40</text>
<line x1="1744.94" y1="980.2" x2="1744.94" y2="986.2" stroke="#555555" stroke-width="1.3"/>
<text transform="translate(1744.94 1007.6) scale(0.965 1.075)" font-size="21.2" text-anchor="middle" fill="#000">80</text>
<line x1="1908.06" y1="980.2" x2="1908.06" y2="986.2" stroke="#555555" stroke-width="1.3"/>
<text transform="translate(1908.06 1007.6) scale(0.965 1.075)" font-size="21.2" text-anchor="middle" fill="#000">120</text>
<line x1="1388.6" y1="961" x2="1394.6" y2="961" stroke="#555555" stroke-width="1.3"/>
<text transform="translate(1384.4 968.7) scale(0.965 1.075)" font-size="21.2" text-anchor="end" fill="#000">0</text>
<line x1="1388.6" y1="848.3" x2="1394.6" y2="848.3" stroke="#555555" stroke-width="1.3"/>
<text transform="translate(1384.4 856) scale(0.965 1.075)" font-size="21.2" text-anchor="end" fill="#000">5</text>
<line x1="1388.6" y1="735.6" x2="1394.6" y2="735.6" stroke="#555555" stroke-width="1.3"/>
<text transform="translate(1384.4 743.3) scale(0.965 1.075)" font-size="21.2" text-anchor="end" fill="#000">10</text>
<line x1="1388.6" y1="622.9" x2="1394.6" y2="622.9" stroke="#555555" stroke-width="1.3"/>
<text transform="translate(1384.4 630.6) scale(0.965 1.075)" font-size="21.2" text-anchor="end" fill="#000">15</text>
<text x="1663.65" y="1038.5" font-size="25" text-anchor="middle" fill="#000">Time (min)</text>
<text x="1347.5" y="769.3" font-size="25" text-anchor="middle" transform="rotate(-90 1347.5 769.3)">TME signal (a.u.) x 10000</text>
<line x1="1826.5" y1="614.94" x2="1826.5" y2="600.65" stroke="#000" stroke-width="1.3"/>
<line x1="1824.4" y1="614.94" x2="1828.6" y2="614.94" stroke="#000" stroke-width="1.3"/>
<line x1="1824.4" y1="600.65" x2="1828.6" y2="600.65" stroke="#000" stroke-width="1.3"/>
<line x1="1581.82" y1="634.4" x2="1581.82" y2="629.89" stroke="#000" stroke-width="1.3"/>
<line x1="1579.72" y1="634.4" x2="1583.92" y2="634.4" stroke="#000" stroke-width="1.3"/>
<line x1="1579.72" y1="629.89" x2="1583.92" y2="629.89" stroke="#000" stroke-width="1.3"/>
<polyline points="1418.7,947.93 1422.78,922.68 1426.86,910.28 1439.09,883.24 1459.48,845.82 1500.26,780 1541.04,718.02 1581.82,632.14 1663.38,631.92 1744.94,611.4 1826.5,607.8 1908.06,596.3" fill="none" stroke="#e4698f" stroke-width="1.9" stroke-linejoin="round" stroke-linecap="round"/>
<polyline points="1418.7,947.93 1422.78,939.59 1426.86,937.56 1439.09,935.3 1459.48,927.42 1500.26,916.15 1541.04,906.45 1581.82,900.82 1663.38,889.32 1744.94,874.67 1826.5,864.75 1908.06,856.87" fill="none" stroke="#abc63a" stroke-width="1.9" stroke-linejoin="round" stroke-linecap="round"/>
<polyline points="1418.7,947.93 1422.78,943.64 1426.86,944.1 1439.09,942.97 1459.48,942.07 1500.26,941.01 1541.04,941.01 1581.82,939 1663.38,937.9 1744.94,936.88 1826.5,935.76 1908.06,935.19" fill="none" stroke="#74b1d6" stroke-width="1.9" stroke-linejoin="round" stroke-linecap="round"/>
<polyline points="1418.7,947.93 1422.78,935.08 1426.86,928.99 1439.09,921.55 1459.48,898.11 1500.26,877.38 1541.04,858.89 1581.82,857.09 1663.38,854.39 1744.94,844.69 1826.5,845.6 1908.06,833.42" fill="none" stroke="#4178c2" stroke-width="1.9" stroke-linejoin="round" stroke-linecap="round"/>
<circle cx="1422.78" cy="922.68" r="5.2" fill="#e4698f"/>
<circle cx="1426.86" cy="910.28" r="5.2" fill="#e4698f"/>
<circle cx="1439.09" cy="883.24" r="5.2" fill="#e4698f"/>
<circle cx="1459.48" cy="845.82" r="5.2" fill="#e4698f"/>
<circle cx="1500.26" cy="780" r="5.2" fill="#e4698f"/>
<circle cx="1541.04" cy="718.02" r="5.2" fill="#e4698f"/>
<circle cx="1581.82" cy="632.14" r="5.2" fill="#e4698f"/>
<circle cx="1663.38" cy="631.92" r="5.2" fill="#e4698f"/>
<circle cx="1744.94" cy="611.4" r="5.2" fill="#e4698f"/>
<circle cx="1826.5" cy="607.8" r="5.2" fill="#e4698f"/>
<circle cx="1908.06" cy="596.3" r="5.2" fill="#e4698f"/>
<circle cx="1422.78" cy="939.59" r="5.2" fill="#abc63a"/>
<circle cx="1426.86" cy="937.56" r="5.2" fill="#abc63a"/>
<circle cx="1439.09" cy="935.3" r="5.2" fill="#abc63a"/>
<circle cx="1459.48" cy="927.42" r="5.2" fill="#abc63a"/>
<circle cx="1500.26" cy="916.15" r="5.2" fill="#abc63a"/>
<circle cx="1541.04" cy="906.45" r="5.2" fill="#abc63a"/>
<circle cx="1581.82" cy="900.82" r="5.2" fill="#abc63a"/>
<circle cx="1663.38" cy="889.32" r="5.2" fill="#abc63a"/>
<circle cx="1744.94" cy="874.67" r="5.2" fill="#abc63a"/>
<circle cx="1826.5" cy="864.75" r="5.2" fill="#abc63a"/>
<circle cx="1908.06" cy="856.87" r="5.2" fill="#abc63a"/>
<circle cx="1422.78" cy="943.64" r="5.2" fill="#74b1d6"/>
<circle cx="1426.86" cy="944.1" r="5.2" fill="#74b1d6"/>
<circle cx="1439.09" cy="942.97" r="5.2" fill="#74b1d6"/>
<circle cx="1459.48" cy="942.07" r="5.2" fill="#74b1d6"/>
<circle cx="1500.26" cy="941.01" r="5.2" fill="#74b1d6"/>
<circle cx="1541.04" cy="941.01" r="5.2" fill="#74b1d6"/>
<circle cx="1581.82" cy="939" r="5.2" fill="#74b1d6"/>
<circle cx="1663.38" cy="937.9" r="5.2" fill="#74b1d6"/>
<circle cx="1744.94" cy="936.88" r="5.2" fill="#74b1d6"/>
<circle cx="1826.5" cy="935.76" r="5.2" fill="#74b1d6"/>
<circle cx="1908.06" cy="935.19" r="5.2" fill="#74b1d6"/>
<circle cx="1422.78" cy="935.08" r="5.2" fill="#4178c2"/>
<circle cx="1426.86" cy="928.99" r="5.2" fill="#4178c2"/>
<circle cx="1439.09" cy="921.55" r="5.2" fill="#4178c2"/>
<circle cx="1459.48" cy="898.11" r="5.2" fill="#4178c2"/>
<circle cx="1500.26" cy="877.38" r="5.2" fill="#4178c2"/>
<circle cx="1541.04" cy="858.89" r="5.2" fill="#4178c2"/>
<circle cx="1581.82" cy="857.09" r="5.2" fill="#4178c2"/>
<circle cx="1663.38" cy="854.39" r="5.2" fill="#4178c2"/>
<circle cx="1744.94" cy="844.69" r="5.2" fill="#4178c2"/>
<circle cx="1826.5" cy="845.6" r="5.2" fill="#4178c2"/>
<circle cx="1908.06" cy="833.42" r="5.2" fill="#4178c2"/>
<circle cx="1418.7" cy="947.93" r="5.2" fill="#e4698f"/>
<circle cx="1967.7" cy="700" r="5" fill="#e4698f"/>
<text x="1986.8" y="708.8" font-size="25.2" text-anchor="start" fill="#000">U</text>
<circle cx="1967.7" cy="748.6" r="5" fill="#74b1d6"/>
<text x="1986.8" y="757.4" font-size="25.2" text-anchor="start" fill="#000">F</text>
<circle cx="1967.7" cy="797" r="5" fill="#4178c2"/>
<text x="1986.8" y="805.8" font-size="25.2" text-anchor="start" fill="#000">U</text>
<circle cx="1967.7" cy="845.5" r="5" fill="#abc63a"/>
<text x="1986.8" y="854.3" font-size="25.2" text-anchor="start" fill="#000">F</text>
<polyline points="2010,701.4 2021.6,701.4 2021.6,749.3 2010,749.3" fill="none" stroke="#222" stroke-width="1.4"/>
<line x1="2021.6" y1="725.4" x2="2033.5" y2="725.4" stroke="#222" stroke-width="1.4"/>
<text x="2040.8" y="734.2" font-size="25.2" text-anchor="start" fill="#000">DsbA</text>
<polyline points="2010,799.2 2021.6,799.2 2021.6,847.3 2010,847.3" fill="none" stroke="#222" stroke-width="1.4"/>
<line x1="2021.6" y1="823.3" x2="2033.5" y2="823.3" stroke="#222" stroke-width="1.4"/>
<text x="2040.8" y="832.1" font-size="25.2" text-anchor="start" fill="#000">C33A</text>
</svg>
</body></html>
